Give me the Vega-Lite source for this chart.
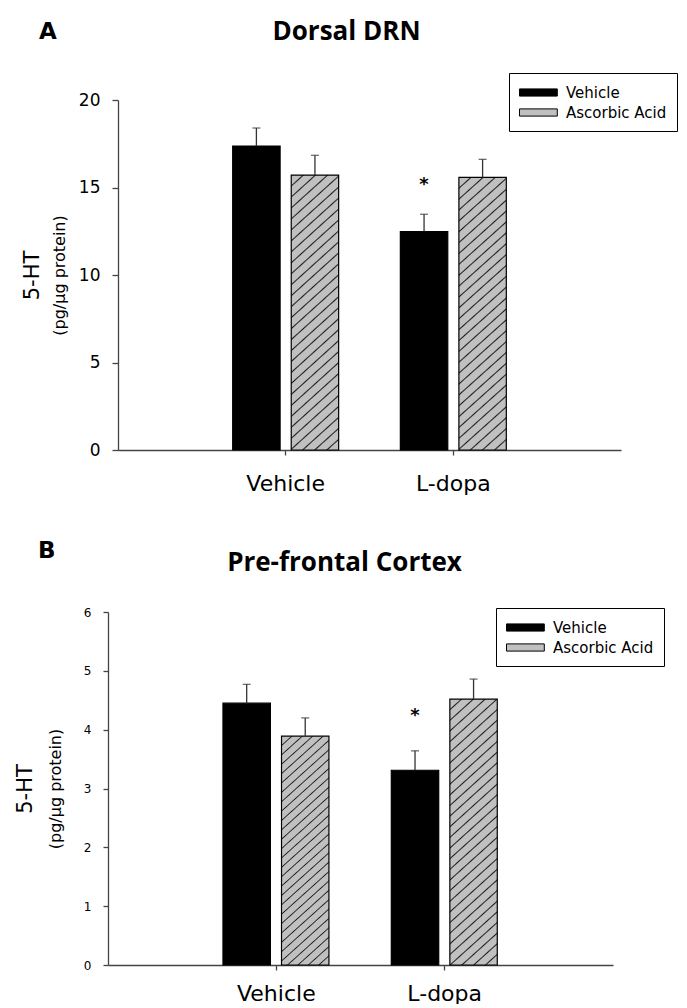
{
  "$schema": "https://vega.github.io/schema/vega-lite/v6.json",
  "background": "white",
  "padding": {"left": 14, "top": 19, "right": 0, "bottom": 0},
  "datasets": {
    "dorsal": [
      {"drug": "Vehicle", "treat": "Vehicle", "mean": 17.37, "upper": 18.4},
      {"drug": "Vehicle", "treat": "Ascorbic Acid", "mean": 15.71, "upper": 16.84},
      {"drug": "L-dopa", "treat": "Vehicle", "mean": 12.48, "upper": 13.47, "sig": "*"},
      {"drug": "L-dopa", "treat": "Ascorbic Acid", "mean": 15.58, "upper": 16.61}
    ],
    "pfc": [
      {"drug": "Vehicle", "treat": "Vehicle", "mean": 4.45, "upper": 4.77},
      {"drug": "Vehicle", "treat": "Ascorbic Acid", "mean": 3.89, "upper": 4.2},
      {"drug": "L-dopa", "treat": "Vehicle", "mean": 3.31, "upper": 3.64, "sig": "*"},
      {"drug": "L-dopa", "treat": "Ascorbic Acid", "mean": 4.52, "upper": 4.86}
    ]
  },
  "config": {
    "view": {"stroke": null},
    "axis": {"grid": false, "domainColor": "#444444", "tickColor": "#444444", "domainWidth": 1.3, "tickWidth": 1.3, "labelColor": "black", "titleColor": "black", "labelFont": "DejaVu Sans", "titleFont": "DejaVu Sans", "titleFontWeight": "normal"},
    "title": {"font": "Open Sans", "fontWeight": "bold", "color": "black"}
  },
  "concat": [
    {
      "title": {"text": "A", "anchor": "start", "frame": "bounds", "font": "DejaVu Sans", "fontSize": 23, "fontWeight": "bold", "dx": 18, "dy": 25, "offset": 0},
      "vconcat": [
        {
          "title": {"text": "Dorsal DRN", "fontSize": 26, "anchor": "middle", "frame": "group", "dx": -18, "offset": 46},
          "width": 513,
          "height": 350,
          "data": {"name": "dorsal"},
          "encoding": {
            "x": {"field": "drug", "type": "nominal", "sort": ["Vehicle", "L-dopa"], "scale": {"range": [10, 513], "paddingInner": 0.368, "paddingOuter": 0.684},
              "axis": {"title": null, "labelAngle": 0, "labelFontSize": 22, "labelPadding": 18, "tickSize": 5}},
            "xOffset": {"field": "treat", "type": "nominal", "sort": ["Vehicle", "Ascorbic Acid"], "scale": {"paddingInner": 0.19, "paddingOuter": 0}}
          },
          "layer": [
            {
              "mark": {"type": "bar", "stroke": "black", "strokeWidth": 1.2},
              "encoding": {
                "y": {"field": "mean", "type": "quantitative", "scale": {"domain": [0, 20], "nice": false},
                  "axis": {"orient": "left", "offset": -10, "title": "(pg/µg protein)", "titleFontSize": 16, "titlePadding": 11, "values": [0, 5, 10, 15, 20], "labelFontSize": 17, "labelPadding": 12, "tickSize": 6}},
                "fill": {
                  "field": "treat", "type": "nominal",
                  "scale": {"domain": ["Vehicle", "Ascorbic Acid"], "range": ["black", "#c0c0c0"]},
                  "legend": {"title": null, "orient": "none", "legendX": 401, "legendY": -27, "strokeColor": "black", "fillColor": "white", "padding": 10, "labelFont": "DejaVu Sans", "labelFontSize": 15, "labelColor": "black", "symbolType": "M-1,-0.4H3.2V0.4H-1Z", "symbolSize": 324, "symbolStrokeColor": "black", "symbolStrokeWidth": 1, "symbolOpacity": 1, "rowPadding": 2, "labelOffset": 28},
                  "condition": {"test": "datum.treat === 'Ascorbic Acid'", "value": {"gradient": "linear", "x1": 0, "y1": 0, "x2": 0.176, "y2": 1.129, "stops": [{"offset":0,"color":"#c0c0c0"},
{"offset":0.03,"color":"#c0c0c0"},{"offset":0.0345,"color":"#1e1e1e"},{"offset":0.039,"color":"#c0c0c0"},
{"offset":0.0645,"color":"#c0c0c0"},{"offset":0.069,"color":"#1e1e1e"},{"offset":0.0735,"color":"#c0c0c0"},
{"offset":0.099,"color":"#c0c0c0"},{"offset":0.1035,"color":"#1e1e1e"},{"offset":0.108,"color":"#c0c0c0"},
{"offset":0.1335,"color":"#c0c0c0"},{"offset":0.138,"color":"#1e1e1e"},{"offset":0.1425,"color":"#c0c0c0"},
{"offset":0.168,"color":"#c0c0c0"},{"offset":0.1725,"color":"#1e1e1e"},{"offset":0.177,"color":"#c0c0c0"},
{"offset":0.2025,"color":"#c0c0c0"},{"offset":0.207,"color":"#1e1e1e"},{"offset":0.2115,"color":"#c0c0c0"},
{"offset":0.237,"color":"#c0c0c0"},{"offset":0.2415,"color":"#1e1e1e"},{"offset":0.246,"color":"#c0c0c0"},
{"offset":0.2715,"color":"#c0c0c0"},{"offset":0.276,"color":"#1e1e1e"},{"offset":0.2805,"color":"#c0c0c0"},
{"offset":0.306,"color":"#c0c0c0"},{"offset":0.3105,"color":"#1e1e1e"},{"offset":0.315,"color":"#c0c0c0"},
{"offset":0.3405,"color":"#c0c0c0"},{"offset":0.345,"color":"#1e1e1e"},{"offset":0.3495,"color":"#c0c0c0"},
{"offset":0.375,"color":"#c0c0c0"},{"offset":0.3795,"color":"#1e1e1e"},{"offset":0.384,"color":"#c0c0c0"},
{"offset":0.4095,"color":"#c0c0c0"},{"offset":0.414,"color":"#1e1e1e"},{"offset":0.4185,"color":"#c0c0c0"},
{"offset":0.444,"color":"#c0c0c0"},{"offset":0.4485,"color":"#1e1e1e"},{"offset":0.453,"color":"#c0c0c0"},
{"offset":0.4785,"color":"#c0c0c0"},{"offset":0.483,"color":"#1e1e1e"},{"offset":0.4875,"color":"#c0c0c0"},
{"offset":0.513,"color":"#c0c0c0"},{"offset":0.5175,"color":"#1e1e1e"},{"offset":0.522,"color":"#c0c0c0"},
{"offset":0.5475,"color":"#c0c0c0"},{"offset":0.552,"color":"#1e1e1e"},{"offset":0.5565,"color":"#c0c0c0"},
{"offset":0.582,"color":"#c0c0c0"},{"offset":0.5865,"color":"#1e1e1e"},{"offset":0.591,"color":"#c0c0c0"},
{"offset":0.6165,"color":"#c0c0c0"},{"offset":0.621,"color":"#1e1e1e"},{"offset":0.6255,"color":"#c0c0c0"},
{"offset":0.651,"color":"#c0c0c0"},{"offset":0.6555,"color":"#1e1e1e"},{"offset":0.66,"color":"#c0c0c0"},
{"offset":0.6855,"color":"#c0c0c0"},{"offset":0.69,"color":"#1e1e1e"},{"offset":0.6945,"color":"#c0c0c0"},
{"offset":0.72,"color":"#c0c0c0"},{"offset":0.7245,"color":"#1e1e1e"},{"offset":0.729,"color":"#c0c0c0"},
{"offset":0.7545,"color":"#c0c0c0"},{"offset":0.759,"color":"#1e1e1e"},{"offset":0.7635,"color":"#c0c0c0"},
{"offset":0.789,"color":"#c0c0c0"},{"offset":0.7935,"color":"#1e1e1e"},{"offset":0.798,"color":"#c0c0c0"},
{"offset":0.8235,"color":"#c0c0c0"},{"offset":0.828,"color":"#1e1e1e"},{"offset":0.8325,"color":"#c0c0c0"},
{"offset":0.858,"color":"#c0c0c0"},{"offset":0.8625,"color":"#1e1e1e"},{"offset":0.867,"color":"#c0c0c0"},
{"offset":0.8925,"color":"#c0c0c0"},{"offset":0.897,"color":"#1e1e1e"},{"offset":0.9015,"color":"#c0c0c0"},
{"offset":0.927,"color":"#c0c0c0"},{"offset":0.9315,"color":"#1e1e1e"},{"offset":0.936,"color":"#c0c0c0"},
{"offset":0.9615,"color":"#c0c0c0"},{"offset":0.966,"color":"#1e1e1e"},{"offset":0.9705,"color":"#c0c0c0"},
{"offset":1,"color":"#c0c0c0"}]}}
                }
              }
            },
            {
              "mark": {"type": "rule", "color": "#333333", "strokeWidth": 1.3},
              "encoding": {
                "y": {"field": "mean", "type": "quantitative", "axis": {"orient": "left", "offset": -10, "title": "5-HT", "labels": false, "ticks": false, "domain": false, "titleFontSize": 21, "titlePadding": 76}},
                "y2": {"field": "upper"}
              }
            },
            {
              "mark": {"type": "tick", "color": "#333333", "thickness": 1.3, "size": 8},
              "encoding": {"y": {"field": "upper", "type": "quantitative", "axis": null}}
            },
            {
              "transform": [{"filter": "datum.sig == '*'"}],
              "mark": {"type": "text", "font": "DejaVu Sans", "fontSize": 18, "fontWeight": "bold", "color": "black", "baseline": "middle", "dy": -29},
              "encoding": {"y": {"field": "upper", "type": "quantitative", "axis": null}, "text": {"field": "sig"}}
            }
          ],
          "resolve": {"axis": {"y": "independent"}}
        }
      ]
    },
    {
      "title": {"text": "B", "anchor": "start", "frame": "bounds", "font": "DejaVu Sans", "fontSize": 23, "fontWeight": "bold", "dx": 24, "dy": 13, "offset": 0},
      "vconcat": [
        {
          "title": {"text": "Pre-frontal Cortex", "fontSize": 26, "anchor": "middle", "frame": "group", "dx": -16, "offset": 30},
          "width": 505,
          "height": 353,
          "data": {"name": "pfc"},
          "encoding": {
            "x": {"field": "drug", "type": "nominal", "sort": ["Vehicle", "L-dopa"], "scale": {"paddingInner": 0.366, "paddingOuter": 0.683},
              "axis": {"title": null, "labelAngle": 0, "labelFontSize": 22, "labelPadding": 13, "tickSize": 5}},
            "xOffset": {"field": "treat", "type": "nominal", "sort": ["Vehicle", "Ascorbic Acid"], "scale": {"paddingInner": 0.2, "paddingOuter": 0}}
          },
          "layer": [
            {
              "mark": {"type": "bar", "stroke": "black", "strokeWidth": 1.2},
              "encoding": {
                "y": {"field": "mean", "type": "quantitative", "scale": {"domain": [0, 6], "nice": false},
                  "axis": {"orient": "left", "title": "(pg/µg protein)", "titleFontSize": 16, "titlePadding": 20, "values": [0, 1, 2, 3, 4, 5, 6], "labelFontSize": 12, "labelPadding": 12, "tickSize": 5}},
                "fill": {
                  "field": "treat", "type": "nominal",
                  "scale": {"domain": ["Vehicle", "Ascorbic Acid"], "range": ["black", "#c0c0c0"]},
                  "legend": {"title": null, "orient": "none", "legendX": 388, "legendY": -4, "strokeColor": "black", "fillColor": "white", "padding": 10, "labelFont": "DejaVu Sans", "labelFontSize": 15, "labelColor": "black", "symbolType": "M-1,-0.4H3.2V0.4H-1Z", "symbolSize": 324, "symbolStrokeColor": "black", "symbolStrokeWidth": 1, "symbolOpacity": 1, "rowPadding": 2, "labelOffset": 28},
                  "condition": [
                    {"test": "datum.treat === 'Ascorbic Acid' && datum.drug === 'Vehicle'", "value": {"gradient": "linear", "x1": 0, "y1": 0, "x2": 0.214, "y2": 1.147, "stops": [{"offset":0,"color":"#c0c0c0"},
{"offset":0.03,"color":"#c0c0c0"},{"offset":0.0345,"color":"#1e1e1e"},{"offset":0.039,"color":"#c0c0c0"},
{"offset":0.0645,"color":"#c0c0c0"},{"offset":0.069,"color":"#1e1e1e"},{"offset":0.0735,"color":"#c0c0c0"},
{"offset":0.099,"color":"#c0c0c0"},{"offset":0.1035,"color":"#1e1e1e"},{"offset":0.108,"color":"#c0c0c0"},
{"offset":0.1335,"color":"#c0c0c0"},{"offset":0.138,"color":"#1e1e1e"},{"offset":0.1425,"color":"#c0c0c0"},
{"offset":0.168,"color":"#c0c0c0"},{"offset":0.1725,"color":"#1e1e1e"},{"offset":0.177,"color":"#c0c0c0"},
{"offset":0.2025,"color":"#c0c0c0"},{"offset":0.207,"color":"#1e1e1e"},{"offset":0.2115,"color":"#c0c0c0"},
{"offset":0.237,"color":"#c0c0c0"},{"offset":0.2415,"color":"#1e1e1e"},{"offset":0.246,"color":"#c0c0c0"},
{"offset":0.2715,"color":"#c0c0c0"},{"offset":0.276,"color":"#1e1e1e"},{"offset":0.2805,"color":"#c0c0c0"},
{"offset":0.306,"color":"#c0c0c0"},{"offset":0.3105,"color":"#1e1e1e"},{"offset":0.315,"color":"#c0c0c0"},
{"offset":0.3405,"color":"#c0c0c0"},{"offset":0.345,"color":"#1e1e1e"},{"offset":0.3495,"color":"#c0c0c0"},
{"offset":0.375,"color":"#c0c0c0"},{"offset":0.3795,"color":"#1e1e1e"},{"offset":0.384,"color":"#c0c0c0"},
{"offset":0.4095,"color":"#c0c0c0"},{"offset":0.414,"color":"#1e1e1e"},{"offset":0.4185,"color":"#c0c0c0"},
{"offset":0.444,"color":"#c0c0c0"},{"offset":0.4485,"color":"#1e1e1e"},{"offset":0.453,"color":"#c0c0c0"},
{"offset":0.4785,"color":"#c0c0c0"},{"offset":0.483,"color":"#1e1e1e"},{"offset":0.4875,"color":"#c0c0c0"},
{"offset":0.513,"color":"#c0c0c0"},{"offset":0.5175,"color":"#1e1e1e"},{"offset":0.522,"color":"#c0c0c0"},
{"offset":0.5475,"color":"#c0c0c0"},{"offset":0.552,"color":"#1e1e1e"},{"offset":0.5565,"color":"#c0c0c0"},
{"offset":0.582,"color":"#c0c0c0"},{"offset":0.5865,"color":"#1e1e1e"},{"offset":0.591,"color":"#c0c0c0"},
{"offset":0.6165,"color":"#c0c0c0"},{"offset":0.621,"color":"#1e1e1e"},{"offset":0.6255,"color":"#c0c0c0"},
{"offset":0.651,"color":"#c0c0c0"},{"offset":0.6555,"color":"#1e1e1e"},{"offset":0.66,"color":"#c0c0c0"},
{"offset":0.6855,"color":"#c0c0c0"},{"offset":0.69,"color":"#1e1e1e"},{"offset":0.6945,"color":"#c0c0c0"},
{"offset":0.72,"color":"#c0c0c0"},{"offset":0.7245,"color":"#1e1e1e"},{"offset":0.729,"color":"#c0c0c0"},
{"offset":0.7545,"color":"#c0c0c0"},{"offset":0.759,"color":"#1e1e1e"},{"offset":0.7635,"color":"#c0c0c0"},
{"offset":0.789,"color":"#c0c0c0"},{"offset":0.7935,"color":"#1e1e1e"},{"offset":0.798,"color":"#c0c0c0"},
{"offset":0.8235,"color":"#c0c0c0"},{"offset":0.828,"color":"#1e1e1e"},{"offset":0.8325,"color":"#c0c0c0"},
{"offset":0.858,"color":"#c0c0c0"},{"offset":0.8625,"color":"#1e1e1e"},{"offset":0.867,"color":"#c0c0c0"},
{"offset":0.8925,"color":"#c0c0c0"},{"offset":0.897,"color":"#1e1e1e"},{"offset":0.9015,"color":"#c0c0c0"},
{"offset":0.927,"color":"#c0c0c0"},{"offset":0.9315,"color":"#1e1e1e"},{"offset":0.936,"color":"#c0c0c0"},
{"offset":0.9615,"color":"#c0c0c0"},{"offset":0.966,"color":"#1e1e1e"},{"offset":0.9705,"color":"#c0c0c0"},
{"offset":1,"color":"#c0c0c0"}]}},
                    {"test": "datum.treat === 'Ascorbic Acid' && datum.drug === 'L-dopa'", "value": {"gradient": "linear", "x1": 0, "y1": 0, "x2": 0.182, "y2": 1.131, "stops": [{"offset":0,"color":"#c0c0c0"},
{"offset":0.03,"color":"#c0c0c0"},{"offset":0.0345,"color":"#1e1e1e"},{"offset":0.039,"color":"#c0c0c0"},
{"offset":0.0645,"color":"#c0c0c0"},{"offset":0.069,"color":"#1e1e1e"},{"offset":0.0735,"color":"#c0c0c0"},
{"offset":0.099,"color":"#c0c0c0"},{"offset":0.1035,"color":"#1e1e1e"},{"offset":0.108,"color":"#c0c0c0"},
{"offset":0.1335,"color":"#c0c0c0"},{"offset":0.138,"color":"#1e1e1e"},{"offset":0.1425,"color":"#c0c0c0"},
{"offset":0.168,"color":"#c0c0c0"},{"offset":0.1725,"color":"#1e1e1e"},{"offset":0.177,"color":"#c0c0c0"},
{"offset":0.2025,"color":"#c0c0c0"},{"offset":0.207,"color":"#1e1e1e"},{"offset":0.2115,"color":"#c0c0c0"},
{"offset":0.237,"color":"#c0c0c0"},{"offset":0.2415,"color":"#1e1e1e"},{"offset":0.246,"color":"#c0c0c0"},
{"offset":0.2715,"color":"#c0c0c0"},{"offset":0.276,"color":"#1e1e1e"},{"offset":0.2805,"color":"#c0c0c0"},
{"offset":0.306,"color":"#c0c0c0"},{"offset":0.3105,"color":"#1e1e1e"},{"offset":0.315,"color":"#c0c0c0"},
{"offset":0.3405,"color":"#c0c0c0"},{"offset":0.345,"color":"#1e1e1e"},{"offset":0.3495,"color":"#c0c0c0"},
{"offset":0.375,"color":"#c0c0c0"},{"offset":0.3795,"color":"#1e1e1e"},{"offset":0.384,"color":"#c0c0c0"},
{"offset":0.4095,"color":"#c0c0c0"},{"offset":0.414,"color":"#1e1e1e"},{"offset":0.4185,"color":"#c0c0c0"},
{"offset":0.444,"color":"#c0c0c0"},{"offset":0.4485,"color":"#1e1e1e"},{"offset":0.453,"color":"#c0c0c0"},
{"offset":0.4785,"color":"#c0c0c0"},{"offset":0.483,"color":"#1e1e1e"},{"offset":0.4875,"color":"#c0c0c0"},
{"offset":0.513,"color":"#c0c0c0"},{"offset":0.5175,"color":"#1e1e1e"},{"offset":0.522,"color":"#c0c0c0"},
{"offset":0.5475,"color":"#c0c0c0"},{"offset":0.552,"color":"#1e1e1e"},{"offset":0.5565,"color":"#c0c0c0"},
{"offset":0.582,"color":"#c0c0c0"},{"offset":0.5865,"color":"#1e1e1e"},{"offset":0.591,"color":"#c0c0c0"},
{"offset":0.6165,"color":"#c0c0c0"},{"offset":0.621,"color":"#1e1e1e"},{"offset":0.6255,"color":"#c0c0c0"},
{"offset":0.651,"color":"#c0c0c0"},{"offset":0.6555,"color":"#1e1e1e"},{"offset":0.66,"color":"#c0c0c0"},
{"offset":0.6855,"color":"#c0c0c0"},{"offset":0.69,"color":"#1e1e1e"},{"offset":0.6945,"color":"#c0c0c0"},
{"offset":0.72,"color":"#c0c0c0"},{"offset":0.7245,"color":"#1e1e1e"},{"offset":0.729,"color":"#c0c0c0"},
{"offset":0.7545,"color":"#c0c0c0"},{"offset":0.759,"color":"#1e1e1e"},{"offset":0.7635,"color":"#c0c0c0"},
{"offset":0.789,"color":"#c0c0c0"},{"offset":0.7935,"color":"#1e1e1e"},{"offset":0.798,"color":"#c0c0c0"},
{"offset":0.8235,"color":"#c0c0c0"},{"offset":0.828,"color":"#1e1e1e"},{"offset":0.8325,"color":"#c0c0c0"},
{"offset":0.858,"color":"#c0c0c0"},{"offset":0.8625,"color":"#1e1e1e"},{"offset":0.867,"color":"#c0c0c0"},
{"offset":0.8925,"color":"#c0c0c0"},{"offset":0.897,"color":"#1e1e1e"},{"offset":0.9015,"color":"#c0c0c0"},
{"offset":0.927,"color":"#c0c0c0"},{"offset":0.9315,"color":"#1e1e1e"},{"offset":0.936,"color":"#c0c0c0"},
{"offset":0.9615,"color":"#c0c0c0"},{"offset":0.966,"color":"#1e1e1e"},{"offset":0.9705,"color":"#c0c0c0"},
{"offset":1,"color":"#c0c0c0"}]}}
                  ]
                }
              }
            },
            {
              "mark": {"type": "rule", "color": "#333333", "strokeWidth": 1.3},
              "encoding": {
                "y": {"field": "mean", "type": "quantitative", "axis": {"orient": "left", "title": "5-HT", "labels": false, "ticks": false, "domain": false, "titleFontSize": 21, "titlePadding": 73}},
                "y2": {"field": "upper"}
              }
            },
            {
              "mark": {"type": "tick", "color": "#333333", "thickness": 1.3, "size": 8},
              "encoding": {"y": {"field": "upper", "type": "quantitative", "axis": null}}
            },
            {
              "transform": [{"filter": "datum.sig == '*'"}],
              "mark": {"type": "text", "font": "DejaVu Sans", "fontSize": 18, "fontWeight": "bold", "color": "black", "baseline": "middle", "dy": -35},
              "encoding": {"y": {"field": "upper", "type": "quantitative", "axis": null}, "text": {"field": "sig"}}
            }
          ],
          "resolve": {"axis": {"y": "independent"}}
        }
      ]
    }
  ],
  "columns": 1,
  "spacing": 46,
  "resolve": {"scale": {"fill": "independent"}, "legend": {"fill": "independent"}}
}
